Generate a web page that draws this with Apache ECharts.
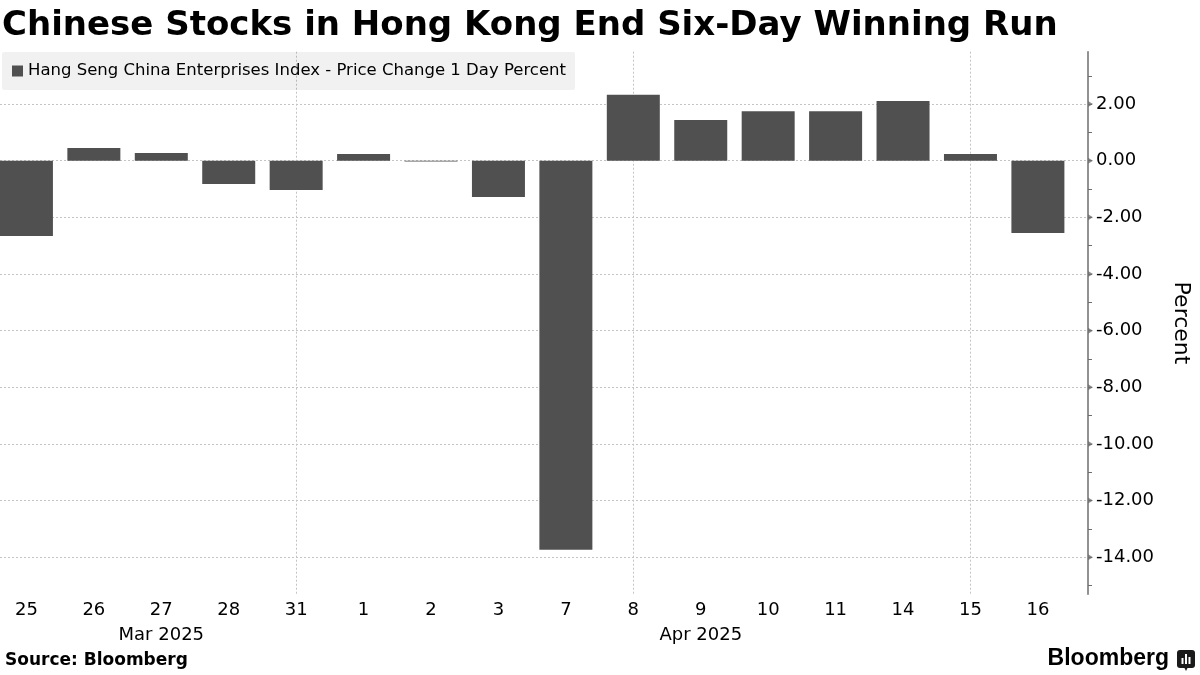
<!DOCTYPE html>
<html>
<head>
<meta charset="utf-8">
<script src="https://cdn.jsdelivr.net/npm/echarts@6/dist/echarts.min.js"></script>
<style>html,body{margin:0;padding:0;background:#fff}#c{width:1200px;height:675px}</style>
</head>
<body>
<div id="c"></div>
<script>
// ---- data ----
const titleText = 'Chinese Stocks in Hong Kong End Six-Day Winning Run';
const seriesName = 'Hang Seng China Enterprises Index - Price Change 1 Day Percent';
const days = ['25','26','27','28','31','1','2','3','7','8','9','10','11','14','15','16'];
const dayMonths = ['Mar 2025','Mar 2025','Mar 2025','Mar 2025','Mar 2025',
  'Apr 2025','Apr 2025','Apr 2025','Apr 2025','Apr 2025','Apr 2025','Apr 2025','Apr 2025','Apr 2025','Apr 2025','Apr 2025'];
const changes = [-2.66, 0.45, 0.27, -0.82, -1.03, 0.24, -0.03, -1.28, -13.74, 2.33, 1.44, 1.75, 1.75, 2.11, 0.24, -2.55];
const yTicks = [-14, -12, -10, -8, -6, -4, -2, 0, 2];
const yMinorTicks = [-15,-14,-13,-12,-11,-10,-9,-8,-7,-6,-5,-4,-3,-2,-1,0,1,2,3];
const sourceText = 'Source: Bloomberg';

// ---- derived ----
const idx = days.map((d, i) => i);
const weekLines = idx.filter(i => i % 5 === 4);
const monthNames = [];
dayMonths.forEach(m => { if (monthNames.indexOf(m) < 0) monthNames.push(m); });
const monthPos = monthNames.map(m => {
  const ii = idx.filter(i => dayMonths[i] === m);
  return ii.reduce((a, b) => a + b, 0) / ii.length;
});

const X_MIN = -0.392, X_MAX = 15.743;
const Y_MIN = -15.31, Y_MAX = 3.85;
const FONT = 'DejaVu Sans';
const AXIS_COLOR = '#6e6e6e';
const GRID_COLOR = '#c4c4c4';

const chart = echarts.init(document.getElementById('c'), null, {renderer: 'canvas'});
chart.setOption({
  animation: false,
  backgroundColor: '#ffffff',
  textStyle: {fontFamily: FONT},
  title: {
    text: titleText, left: 2, top: 0, padding: [9, 0, 0, 0],
    textStyle: {fontFamily: FONT, fontWeight: 'bold', fontSize: 34, color: '#000'}
  },
  legend: {
    data: [seriesName], left: 2, top: 52, padding: [9, 9, 9, 10],
    itemWidth: 11, itemHeight: 11, icon: 'rect',
    backgroundColor: 'rgba(0,0,0,0.055)', borderRadius: 2,
    textStyle: {fontFamily: FONT, fontSize: 16.5, color: '#000', lineHeight: 20}
  },
  grid: {left: 0, right: 109.3, top: 51.7, bottom: 80.7, containLabel: false},
  xAxis: [{
    type: 'value', min: X_MIN, max: X_MAX, position: 'bottom',
    axisLine: {show: false, onZero: false},
    axisTick: {show: false, customValues: weekLines},
    splitLine: {show: true, lineStyle: {color: GRID_COLOR, type: [2, 2], width: 1}},
    axisLabel: {
      customValues: idx, margin: 7,
      formatter: v => days[Math.round(v)],
      fontFamily: FONT, fontSize: 18, color: '#000'
    }
  }, {
    type: 'value', min: X_MIN, max: X_MAX, position: 'bottom', offset: 25,
    axisLine: {show: false, onZero: false}, axisTick: {show: false}, splitLine: {show: false},
    axisLabel: {
      customValues: monthPos, margin: 7,
      formatter: v => monthNames[monthPos.indexOf(v)] || '',
      fontFamily: FONT, fontSize: 18, color: '#000'
    }
  }],
  yAxis: [{
    type: 'value', position: 'right', min: Y_MIN, max: Y_MAX,
    axisLine: {show: true, onZero: false, lineStyle: {color: AXIS_COLOR, width: 1.5}},
    axisTick: {show: false, customValues: yTicks},
    splitLine: {show: true, lineStyle: {color: GRID_COLOR, type: [2, 2], width: 1}},
    axisLabel: {
      customValues: yTicks, margin: 8,
      formatter: v => v.toFixed(2),
      fontFamily: FONT, fontSize: 18, color: '#000'
    },
    name: 'Percent', nameLocation: 'middle', nameRotate: -90, nameGap: 82,
    nameTextStyle: {fontFamily: FONT, fontSize: 22, color: '#000'}
  }, {
    type: 'value', position: 'right', min: Y_MIN, max: Y_MAX,
    axisLine: {show: false, onZero: false},
    axisTick: {show: true, customValues: yMinorTicks, length: 4, lineStyle: {color: AXIS_COLOR, width: 1}},
    axisLabel: {show: false},
    splitLine: {show: false}
  }],
  series: [{
    name: seriesName, type: 'bar', xAxisIndex: 0, yAxisIndex: 0,
    data: changes.map((v, i) => [i, v]),
    barWidth: 53,
    itemStyle: {color: '#505050'}
  }, {
    name: 'ticks', type: 'scatter', xAxisIndex: 0, yAxisIndex: 0,
    data: yTicks.map(v => [X_MAX, v]),
    symbol: 'triangle', symbolSize: [6, 5], symbolRotate: -90, symbolOffset: [2.5, 0],
    itemStyle: {color: AXIS_COLOR}, clip: false, silent: true, z: 5
  }],
  graphic: [{
    type: 'text', left: 5, top: 652,
    style: {text: sourceText, font: 'bold 17px "DejaVu Sans"', fill: '#000'}
  }, {
    type: 'text', right: 31, top: 647,
    style: {text: 'Bloomberg', font: 'bold 23px "Liberation Sans"', fill: '#000'}
  }, {
    type: 'group', right: 5, top: 650,
    children: [
      {type: 'rect', shape: {x: 0, y: 0, width: 18, height: 18, r: 3}, style: {fill: '#1a1a1a'}},
      {type: 'polygon', shape: {points: [[7, 17], [11, 17], [9, 21]]}, style: {fill: '#1a1a1a'}},
      {type: 'rect', shape: {x: 4.5, y: 8, width: 2, height: 6}, style: {fill: '#fff'}},
      {type: 'rect', shape: {x: 8, y: 4, width: 2, height: 10}, style: {fill: '#fff'}},
      {type: 'rect', shape: {x: 11.5, y: 7, width: 2, height: 7}, style: {fill: '#fff'}}
    ]
  }]
});
</script>
</body>
</html>
